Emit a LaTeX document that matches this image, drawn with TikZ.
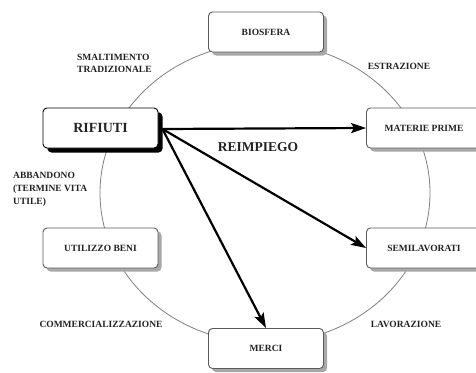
\documentclass[tikz,border=0pt]{standalone}
\usepackage{fontspec}
\setmainfont{Liberation Serif}
\usetikzlibrary{shadows,arrows.meta}
\definecolor{ringgray}{HTML}{808080}
\definecolor{boxborder}{HTML}{5A5A5A}
\definecolor{shadowgray}{HTML}{A8A8A8}
\definecolor{inkcol}{HTML}{222222}
\begin{document}
\begin{tikzpicture}[x=1pt,y=-1pt,
  box/.style={draw=boxborder, line width=0.9pt, rounded corners=4pt, fill=white,
    minimum width=115pt, minimum height=40pt, inner sep=0pt,
    font=\bfseries\fontsize{9.5}{11}\selectfont, text=inkcol,
    drop shadow={shadow xshift=3.5pt, shadow yshift=-3.5pt, fill=shadowgray, opacity=1}},
  bigbox/.style={box, draw=black, font=\bfseries\fontsize{14}{16}\selectfont,
    drop shadow={shadow xshift=4.5pt, shadow yshift=-4.5pt, fill=black, opacity=1}},
  lab/.style={font=\bfseries\fontsize{9.5}{12}\selectfont, text=inkcol, inner sep=0pt},
  flow/.style={line width=2.2pt, -{Stealth[length=15pt,width=10pt,inset=3pt]}}
]
\clip (0,0) rectangle (476,372);
\fill[white] (0,0) rectangle (476,372);
\draw[ringgray, line width=0.8pt] (265,193) ellipse [x radius=165, y radius=150];

\node[box] (bio) at (266,32) {BIOSFERA};
\node[bigbox] (rif) at (100.5,128) {RIFIUTI};
\node[box] (mat) at (424,128) {MATERIE PRIME};
\node[box] (semi) at (424,248) {SEMILAVORATI};
\node[box] (util) at (100.5,248) {UTILIZZO BENI};
\node[box] (merci) at (266,348.5) {MERCI};

\node[lab, anchor=west, align=left] (smalt) at (77,63) {SMALTIMENTO\\TRADIZIONALE};
\node[lab] (estr) at (399,66) {ESTRAZIONE};
\node[lab, font=\bfseries\fontsize{13.5}{15}\selectfont] (reimp) at (258,147) {REIMPIEGO};
\node[lab, anchor=west, align=left, font=\bfseries\fontsize{9.5}{13}\selectfont] (abb) at (13,189) {ABBANDONO\\(TERMINE VITA\\UTILE)};
\node[lab] (comm) at (101,324) {COMMERCIALIZZAZIONE};
\node[lab] (lav) at (406,324) {LAVORAZIONE};

\coordinate (src) at ([xshift=4pt,yshift=-1pt]rif.east);
\draw[flow] (src) -- (mat.west);
\draw[flow] (src) -- (semi.west);
\draw[flow] (src) -- (merci.north);
\end{tikzpicture}
\end{document}
